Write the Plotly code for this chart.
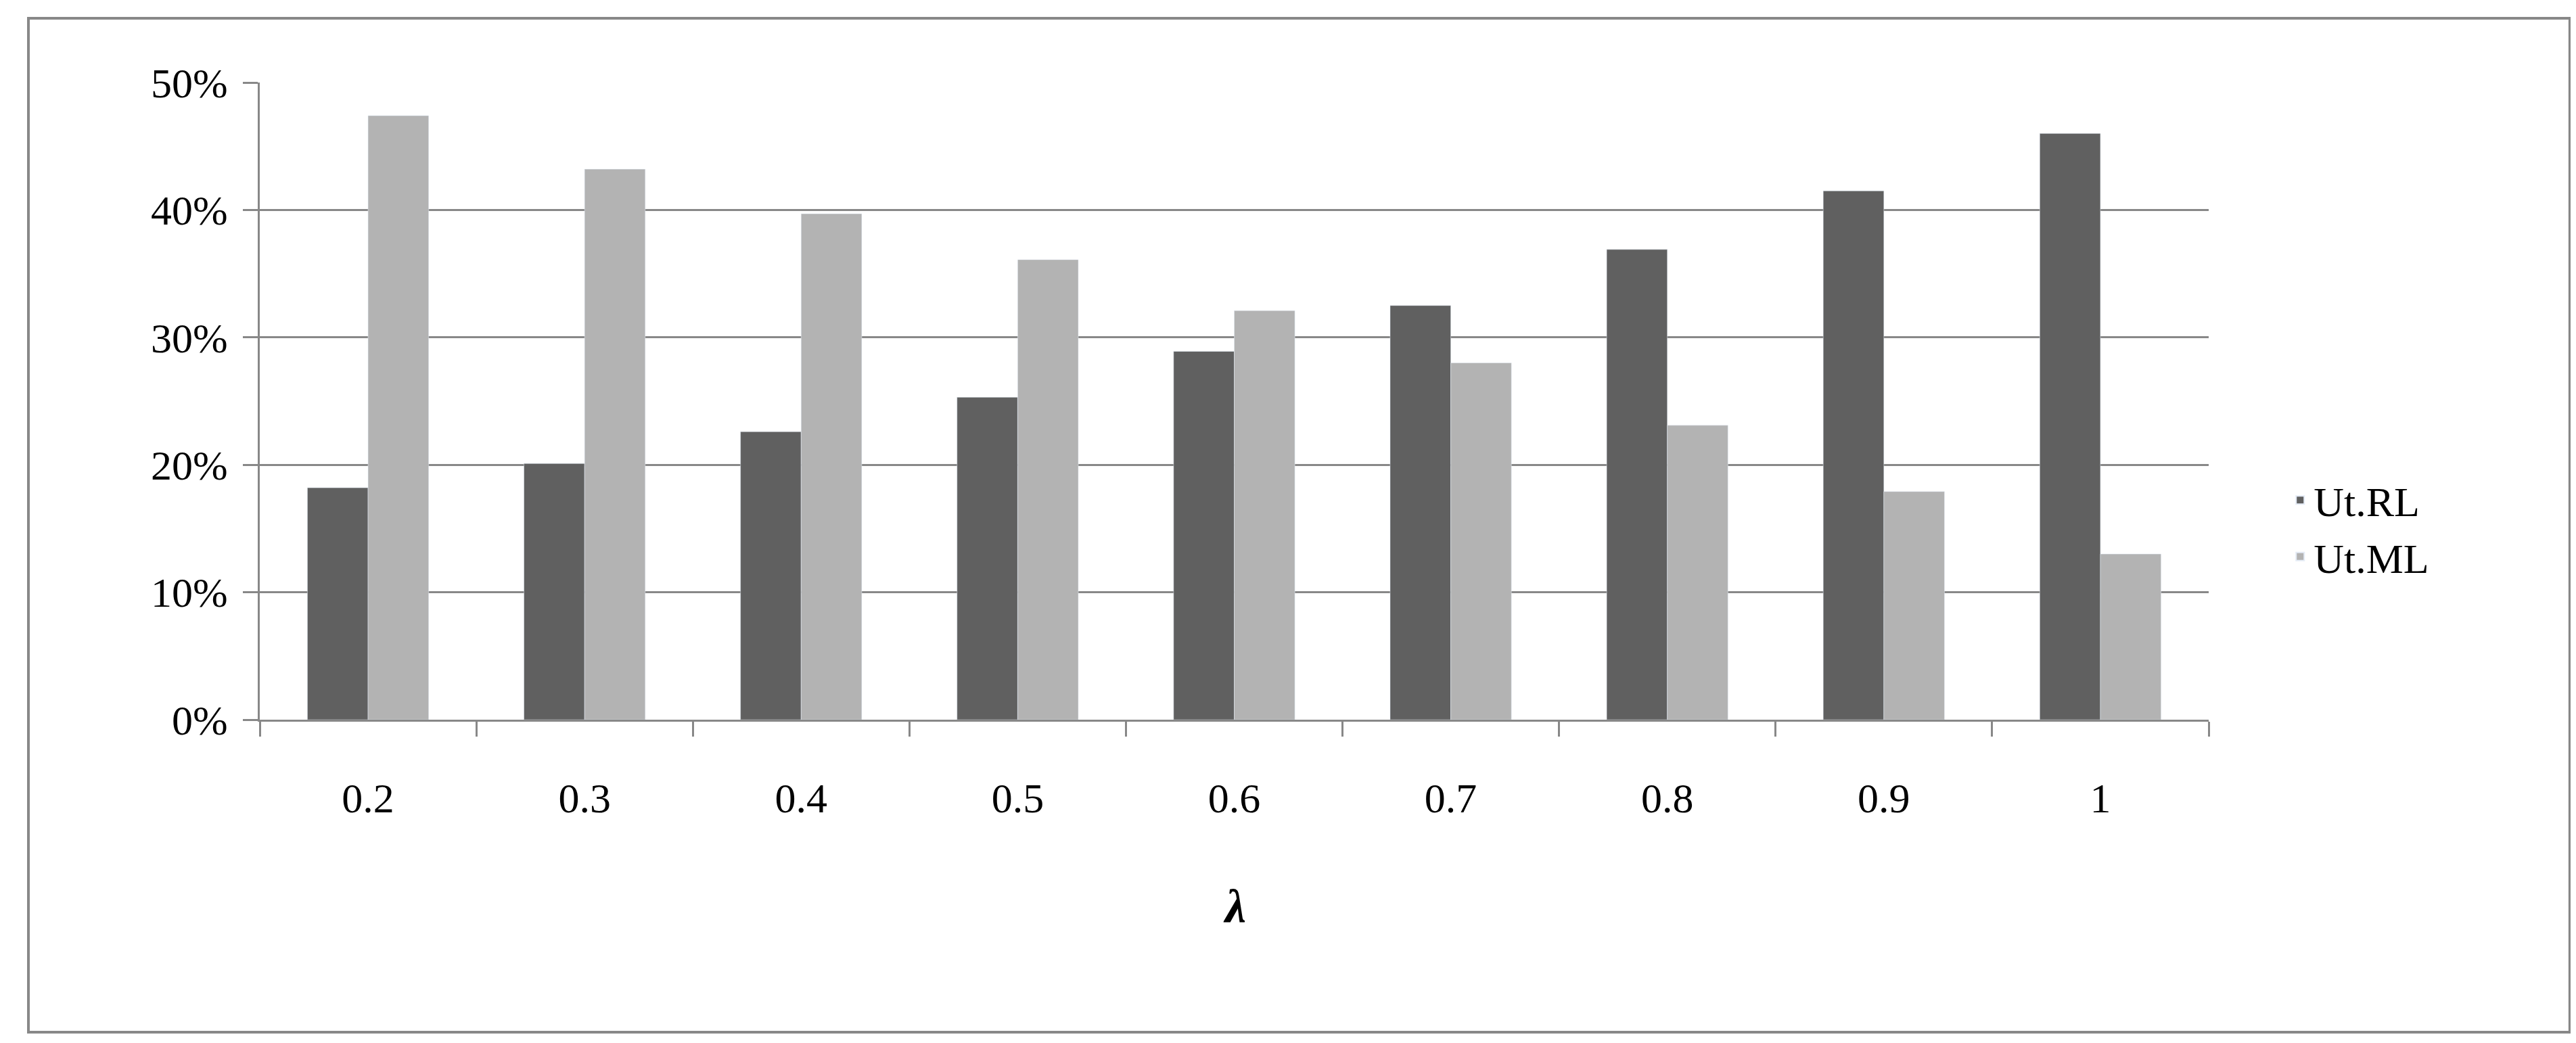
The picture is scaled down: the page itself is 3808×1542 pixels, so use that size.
import plotly.graph_objects as go

categories = ["0.2", "0.3", "0.4", "0.5", "0.6", "0.7", "0.8", "0.9", "1"]
ut_rl = [18.2, 20.1, 22.6, 25.3, 28.9, 32.5, 36.9, 41.5, 46.0]
ut_ml = [47.4, 43.2, 39.7, 36.1, 32.1, 28.0, 23.1, 17.9, 13.0]

xpos = list(range(len(categories)))
font = dict(family="Liberation Serif, Times New Roman, serif", size=62, color="black")

fig = go.Figure()
fig.add_bar(x=xpos, y=ut_rl, name="Ut.RL", marker_color="#606060")
fig.add_bar(x=xpos, y=ut_ml, name="Ut.ML", marker_color="#b3b3b3")

fig.update_layout(
    width=3808, height=1542,
    margin=dict(l=376, r=551, t=114, b=486),
    paper_bgcolor="white", plot_bgcolor="white",
    barmode="group", bargap=0.44, bargroupgap=0,
    font=font,
    legend=dict(x=1.04, y=0.3, xanchor="left", yanchor="middle",
                font=font, itemsizing="constant", tracegroupgap=40),
    xaxis=dict(range=[-0.5, 8.5], tickvals=xpos, ticktext=categories,
               ticks="", showline=True, linecolor="#888888", linewidth=3,
               showgrid=False, zeroline=False, ticklabelstandoff=60,
               minor=dict(tickvals=[i - 0.5 for i in range(10)], ticks="outside",
                          ticklen=22, tickwidth=3, tickcolor="#888888", showgrid=False)),
    yaxis=dict(range=[0, 50], dtick=10, ticksuffix="%", showgrid=True,
               gridcolor="#888888", gridwidth=3, ticks="outside", ticklen=22,
               tickwidth=3, tickcolor="#888888", showline=True, linecolor="#888888",
               linewidth=3, zeroline=False, ticklabelstandoff=10),
    showlegend=True,
)
fig.add_annotation(text="<b><i>λ</i></b>", xref="paper", yref="paper", x=0.5, y=-0.335,
                   showarrow=False, font=dict(family="Liberation Serif, serif", size=70))
fig.add_shape(type="rect", xref="paper", yref="paper", x0=-0.1187, x1=1.1853,
              y0=-0.4904, y1=1.1008, line=dict(color="#888888", width=4))
fig.write_html("out.html")
